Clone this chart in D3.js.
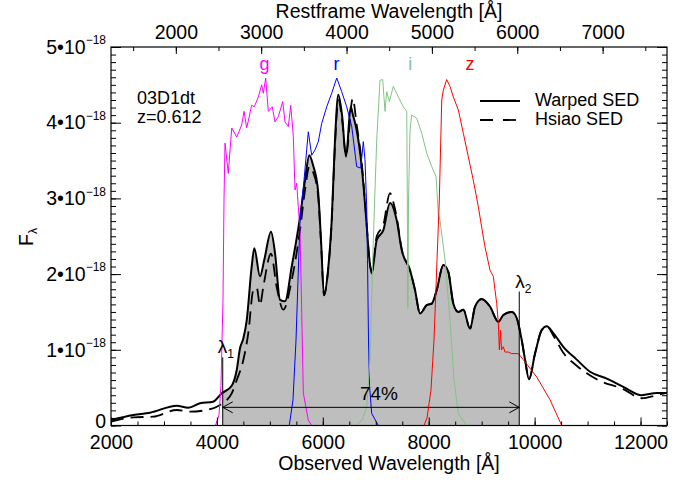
<!DOCTYPE html>
<html>
<head>
<meta charset="utf-8">
<script src="https://cdn.jsdelivr.net/npm/d3@7"></script>
<style>
  body { margin: 0; background: #fff; }
  svg text { font-family: "Liberation Sans", Arial, Helvetica, sans-serif; fill: #000; }
</style>
</head>
<body>
<div id="chart"></div>
<script>
// SN 03D1dt, z = 0.612 -- flux in units of 1e-18
const redshift = 0.612;
const lambda1 = 4110, lambda2 = 9710;
const coverage = "74%";

const warpedSED = [
  [2000,0.073],[2421,0.139],[2737,0.169],[3241,0.262],[3460,0.235],[3681,0.293],[3926,0.314],
  [4091,0.425],[4280,0.526],[4374,0.733],[4436,1.02],[4499,1.15],[4563,1.39],[4657,2.10],
  [4706,2.34],[4814,1.97],[4895,2.19],[5022,2.56],[5097,2.28],[5192,1.66],[5286,1.64],
  [5413,2.10],[5569,2.75],[5664,3.24],[5745,3.57],[5815,3.44],[5909,3.11],[5966,2.45],
  [6023,1.72],[6098,2.05],[6168,2.71],[6230,3.77],[6293,4.37],[6363,4.10],[6438,3.55],
  [6527,4.21],[6570,4.10],[6640,3.90],[6735,3.42],[6816,2.76],[6872,2.25],[6923,2.01],
  [7018,2.45],[7143,2.58],[7269,2.94],[7396,2.71],[7490,2.32],[7647,2.05],[7741,1.79],
  [7836,1.48],[7962,1.59],[8057,1.61],[8151,1.79],[8276,2.12],[8370,2.03],[8465,1.61],
  [8559,1.50],[8654,1.53],[8780,1.28],[8875,1.57],[9001,1.67],[9158,1.57],[9315,1.37],
  [9409,1.46],[9568,1.50],[9662,1.42],[9756,1.13],[9819,0.87],[9894,0.61],[10008,0.95],
  [10134,1.26],[10229,1.31],[10353,1.22],[10542,1.04],[10795,0.87],[11046,0.71],
  [11362,0.62],[11675,0.51],[12023,0.40],[12306,0.43],[12495,0.43]
];

const hsiaoSED = [
  [2000,0.05],[2421,0.108],[2793,0.116],[3241,0.205],[3492,0.182],[3926,0.227],[4059,0.27],
  [4180,0.33],[4280,0.425],[4374,0.60],[4499,0.865],[4593,1.22],[4688,1.79],[4752,1.82],
  [4814,1.59],[4876,1.83],[5022,2.27],[5129,1.83],[5254,1.53],[5413,1.92],[5569,2.58],
  [5664,3.11],[5745,3.42],[5815,3.35],[5909,3.05],[5966,2.42],[6023,1.72],[6098,2.03],
  [6168,2.69],[6230,3.70],[6293,4.30],[6363,4.05],[6438,3.57],[6565,4.32],[6640,3.97],
  [6735,3.47],[6816,2.78],[6872,2.25],[6923,2.03],[7018,2.50],[7143,2.65],[7269,3.07],
  [7332,2.95],[7396,2.75],[7490,2.33],[7647,2.05],[7741,1.79],[7836,1.48],[7962,1.59],
  [8057,1.61],[8151,1.79],[8276,2.12],[8370,2.03],[8465,1.61],[8559,1.50],[8654,1.53],
  [8780,1.28],[8875,1.57],[9001,1.67],[9158,1.57],[9315,1.37],[9409,1.46],[9568,1.50],
  [9662,1.42],[9756,1.13],[9819,0.87],[9894,0.61],[10008,0.95],[10134,1.26],[10229,1.31],
  [10353,1.19],[10542,0.96],[10795,0.79],[11173,0.61],[11675,0.48],[12023,0.36],
  [12306,0.40],[12495,0.43]
];

const filterG = [
  [3973,0],[4040,0.14],[4077,0.53],[4115,1.66],[4134,2.98],[4153,3.73],[4215,3.33],[4280,3.93],
  [4374,3.81],[4468,3.97],[4512,4.15],[4563,3.93],[4657,4.23],[4706,4.21],[4782,4.34],
  [4846,4.50],[4876,4.39],[4922,4.59],[4971,4.15],[5046,4.21],[5097,4.01],[5160,4.08],
  [5243,4.28],[5286,4.01],[5349,3.95],[5394,4.23],[5443,3.82],[5475,3.11],[5507,3.20],
  [5537,2.89],[5569,2.58],[5597,1.66],[5632,0.43],[5726,0.07],[5790,0]
];
const filterR = [
  [5367,0],[5437,0.34],[5494,1.13],[5569,2.71],[5645,3.24],[5726,3.88],[5790,3.57],[5853,3.64],
  [5915,3.75],[5979,3.99],[6074,4.21],[6168,4.39],[6263,4.59],[6357,4.41],[6451,4.21],
  [6546,3.95],[6640,3.42],[6716,3.40],[6765,3.75],[6797,3.51],[6829,2.89],[6844,2.19],
  [6863,1.13],[6882,0.53],[6923,0.16],[7048,0]
];
const filterI = [
  [6626,0],[6740,0.07],[6829,0.25],[6891,0.87],[6954,2.45],[7018,3.77],[7080,4.56],[7131,4.57],
  [7175,4.15],[7207,4.41],[7256,4.28],[7332,4.48],[7426,4.34],[7520,4.21],[7585,4.15],
  [7596,2.98],[7602,1.55],[7610,1.55],[7618,2.98],[7647,3.90],[7679,4.10],[7773,4.06],
  [7868,3.86],[7962,3.60],[8057,3.42],[8138,3.29],[8181,2.80],[8213,2.71],[8308,2.19],
  [8402,1.39],[8478,0.60],[8559,0.16],[8718,0]
];
const filterZ = [
  [7911,0],[7968,0.10],[8043,0.47],[8100,1.13],[8157,2.19],[8200,2.98],[8246,4.30],[8276,4.43],
  [8340,4.57],[8402,4.48],[8465,4.34],[8559,4.17],[8654,3.86],[8748,3.55],[8842,3.24],
  [8937,2.89],[9031,2.49],[9063,2.36],[9158,2.05],[9220,1.97],[9284,1.61],[9315,1.35],
  [9334,1.00],[9356,1.26],[9375,1.00],[9409,1.04],[9441,0.97],[9503,0.97],[9568,0.95],
  [9692,0.95],[9787,0.87],[10040,0.64],[10291,0.34],[10512,0],[10984,0]
];

const filters = [
  { name: "g", data: filterG, color: "#ff00ff", label: 4900 },
  { name: "r", data: filterR, color: "#0000ff", label: 6260 },
  { name: "i", data: filterI, color: "#86c286", label: 7650 },
  { name: "z", data: filterZ, color: "#ff0000", label: 8780 }
];

const xMajor = [2000, 4000, 6000, 8000, 10000, 12000];
const xMinor = d3.range(2000, 12501, 500);
const restMajor = [2000, 3000, 4000, 5000, 6000, 7000];
const restMinor = d3.range(1500, 7501, 500);
const yMajor = [0, 1, 2, 3, 4, 5];
const yMinor = d3.range(0, 50.5, 1).map(d => d / 10);

const width = 694, height = 481;
const margin = { top: 47, right: 27, bottom: 55.5, left: 111 };
const fontSize = 19.5;

const svg = d3.select("#chart").append("svg")
  .attr("width", width)
  .attr("height", height);

const x = d3.scaleLinear().domain([2000, 12500]).range([margin.left, width - margin.right]);
const xRest = d3.scaleLinear().domain([2000 / (1 + redshift), 12500 / (1 + redshift)]).range(x.range());
const y = d3.scaleLinear().domain([0, 5]).range([height - margin.bottom, margin.top]);

const line = d3.line().x(d => x(d[0])).y(d => y(d[1])).curve(d3.curveMonotoneX);

svg.append("clipPath").attr("id", "fillClip")
  .append("rect")
  .attr("x", x(lambda1)).attr("y", margin.top)
  .attr("width", x(lambda2) - x(lambda1))
  .attr("height", y(0) - margin.top);

svg.append("clipPath").attr("id", "plotClip")
  .append("rect")
  .attr("x", margin.left).attr("y", margin.top)
  .attr("width", x.range()[1] - margin.left)
  .attr("height", y(0) - margin.top);

// shaded region between lambda1 and lambda2
svg.append("path")
  .datum(warpedSED)
  .attr("clip-path", "url(#fillClip)")
  .attr("fill", "#bebebe")
  .attr("d", d3.area().x(d => x(d[0])).y0(y(0)).y1(d => y(d[1])).curve(d3.curveMonotoneX));

const plot = svg.append("g").attr("clip-path", "url(#plotClip)");

plot.append("path").datum(hsiaoSED)
  .attr("fill", "none").attr("stroke", "#000").attr("stroke-width", 1.8)
  .attr("stroke-dasharray", "13,7")
  .attr("d", line);

plot.append("path").datum(warpedSED)
  .attr("fill", "none").attr("stroke", "#000").attr("stroke-width", 2)
  .attr("d", line);

filters.forEach(f => {
  plot.append("path").datum(f.data)
    .attr("fill", "none").attr("stroke", f.color).attr("stroke-width", 1)
    .attr("d", d3.line().x(d => x(d[0])).y(d => y(d[1])));
  svg.append("text")
    .attr("x", x(f.label)).attr("y", 70)
    .attr("text-anchor", "middle")
    .attr("fill", f.color).style("fill", f.color)
    .style("font-size", "18px")
    .text(f.name);
});

// lambda markers
const lamTop = { l1: 0.9, l2: 1.77 };
svg.append("line")
  .attr("x1", x(lambda1)).attr("x2", x(lambda1))
  .attr("y1", y(0)).attr("y2", y(lamTop.l1))
  .attr("stroke", "#000").attr("stroke-width", 1);
svg.append("line")
  .attr("x1", x(lambda2)).attr("x2", x(lambda2))
  .attr("y1", y(0)).attr("y2", y(lamTop.l2))
  .attr("stroke", "#000").attr("stroke-width", 1);

function lambdaLabel(xp, yp, sub) {
  const t = svg.append("text").attr("x", xp).attr("y", yp).style("font-size", "19px");
  t.append("tspan").text("λ");
  t.append("tspan").attr("dy", 5).style("font-size", "12px").text(sub);
}
lambdaLabel(x(lambda1) - 5, y(lamTop.l1) - 4, "1");
lambdaLabel(x(lambda2) - 4, y(lamTop.l2) - 4, "2");

// arrow showing coverage
const arrowY = y(0.24);
svg.append("line")
  .attr("x1", x(lambda1)).attr("x2", x(lambda2))
  .attr("y1", arrowY).attr("y2", arrowY)
  .attr("stroke", "#000").attr("stroke-width", 1);
[[x(lambda1), 1], [x(lambda2), -1]].forEach(([ax, dir]) => {
  svg.append("path")
    .attr("d", `M${ax + dir * 10},${arrowY - 5.5}L${ax},${arrowY}L${ax + dir * 10},${arrowY + 5.5}`)
    .attr("fill", "none").attr("stroke", "#000").attr("stroke-width", 1);
});
svg.append("text")
  .attr("x", (x(lambda1) + x(lambda2)) / 2 + 8).attr("y", arrowY - 7)
  .attr("text-anchor", "middle")
  .style("font-size", "19px")
  .text(coverage);

// axes
const axisFont = g => g.selectAll("text").style("font-size", fontSize + "px").attr("fill", "#000");
const clean = g => { g.select(".domain").remove(); g.selectAll("line").attr("stroke", "#000"); };

svg.append("g").attr("transform", `translate(0,${y(0)})`)
  .call(d3.axisBottom(x).tickValues(xMinor).tickSize(-4).tickFormat(""))
  .call(clean);
svg.append("g").attr("transform", `translate(0,${y(0)})`)
  .call(d3.axisBottom(x).tickValues(xMajor).tickSize(-8).tickPadding(10).tickFormat(d3.format("d")))
  .call(clean).call(axisFont);

svg.append("g").attr("transform", `translate(0,${margin.top})`)
  .call(d3.axisTop(xRest).tickValues(restMinor).tickSize(-4).tickFormat(""))
  .call(clean);
svg.append("g").attr("transform", `translate(0,${margin.top})`)
  .call(d3.axisTop(xRest).tickValues(restMajor).tickSize(-7).tickPadding(8).tickFormat(d3.format("d")))
  .call(clean).call(axisFont);

svg.append("g").attr("transform", `translate(${margin.left},0)`)
  .call(d3.axisLeft(y).tickValues(yMinor).tickSize(-5).tickFormat(""))
  .call(clean);
const yAxis = svg.append("g").attr("transform", `translate(${margin.left},0)`)
  .call(d3.axisLeft(y).tickValues(yMajor).tickSize(-10).tickPadding(5))
  .call(clean).call(axisFont);
yAxis.selectAll("text").each(function (d) {
  const t = d3.select(this).text(null);
  if (d === 0) {
    t.attr("dy", "0.1em").text("0");
    return;
  }
  t.append("tspan").text(d + "•10");
  t.append("tspan").attr("dy", -9.5).style("font-size", "12px").text("−18");
});

svg.append("g").attr("transform", `translate(${x.range()[1]},0)`)
  .call(d3.axisRight(y).tickValues(yMinor).tickSize(-5).tickFormat(""))
  .call(clean);
svg.append("g").attr("transform", `translate(${x.range()[1]},0)`)
  .call(d3.axisRight(y).tickValues(yMajor).tickSize(-10).tickFormat(""))
  .call(clean);

svg.append("rect")
  .attr("x", margin.left).attr("y", margin.top)
  .attr("width", x.range()[1] - margin.left)
  .attr("height", y(0) - margin.top)
  .attr("fill", "none").attr("stroke", "#000").attr("stroke-width", 1.2);

// axis titles
svg.append("text")
  .attr("x", (x.range()[0] + x.range()[1]) / 2).attr("y", 470)
  .attr("text-anchor", "middle").style("font-size", fontSize + "px")
  .text("Observed Wavelength [Å]");
svg.append("text")
  .attr("x", (x.range()[0] + x.range()[1]) / 2).attr("y", 18)
  .attr("text-anchor", "middle").style("font-size", fontSize + "px")
  .text("Restframe Wavelength [Å]");
const yTitle = svg.append("text")
  .attr("transform", "translate(33,246) rotate(-90)")
  .style("font-size", fontSize + "px");
yTitle.append("tspan").text("F");
yTitle.append("tspan").attr("dy", 4).style("font-size", "12px").text("λ");

// object name
svg.append("text").attr("x", 137).attr("y", 104).style("font-size", "18px").text("03D1dt");
svg.append("text").attr("x", 137).attr("y", 123).style("font-size", "18px").text("z=" + redshift);

// legend
const legend = svg.append("g");
[["Warped SED", null, 101], ["Hsiao SED", "13,10", 120]].forEach(([name, dash, ly]) => {
  legend.append("line")
    .attr("x1", 480).attr("x2", 520).attr("y1", ly).attr("y2", ly)
    .attr("stroke", "#000").attr("stroke-width", 1.8)
    .attr("stroke-dasharray", dash);
  legend.append("text").attr("x", 535).attr("y", ly + 5).style("font-size", "18px").text(name);
});
</script>
</body>
</html>
